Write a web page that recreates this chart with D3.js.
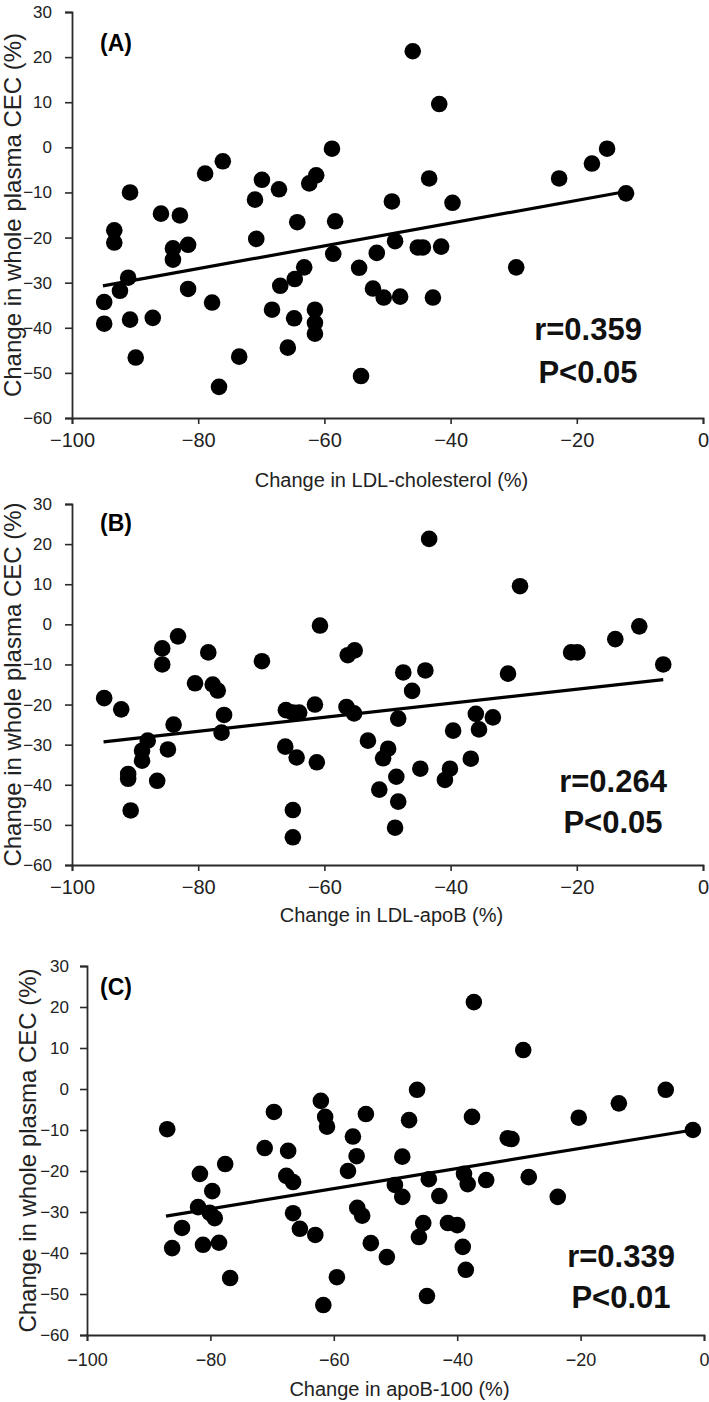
<!DOCTYPE html>
<html>
<head>
<meta charset="utf-8">
<script src="https://cdn.jsdelivr.net/npm/d3@7"></script>
<style>
  html, body { margin: 0; padding: 0; background: #fff; }
  svg { display: block; }
  text { font-family: "Liberation Sans", Arial, sans-serif; }
</style>
</head>
<body>
<svg id="chart" width="709" height="1402"></svg>
<script>
// ---------- DATA ----------
const yTicks = [30, 20, 10, 0, -10, -20, -30, -40, -50, -60];
const xTicks = [-100, -80, -60, -40, -20, 0];
const yTitle = "Change in whole plasma CEC (%)";

// Panel A: change in LDL-cholesterol (%) vs change in whole plasma CEC (%)
const aX = [-93.3,-93.3,-94.9,-94.9,-92.4,-91.1,-90.8,-89.9,-90.8,-87.2,-85.9,-82.9,-84.0,-84.0,-81.6,-81.6,-78.9,-76.1,-77.8,-76.7,-73.5,-71.0,-69.9,-70.8,-67.2,-68.3,-67.0,-65.8,-64.3,-64.7,-64.8,-63.2,-62.4,-61.3,-61.5,-61.5,-61.5,-58.8,-58.3,-58.6,-54.5,-54.2,-51.7,-52.3,-50.6,-48.8,-49.3,-48.0,-46.0,-45.2,-44.4,-43.4,-42.8,-41.8,-41.5,-39.7,-29.6,-22.8,-17.6,-15.2,-12.2];
const aY = [-18.4,-21.1,-34.3,-39.1,-31.8,-28.9,-38.2,-46.6,-10.0,-37.8,-14.7,-15.1,-22.4,-24.9,-21.6,-31.4,-5.8,-3.1,-34.4,-53.1,-46.4,-11.6,-7.2,-20.3,-9.3,-36.0,-30.7,-44.4,-16.6,-29.2,-37.9,-26.6,-8.0,-6.2,-36.0,-38.9,-41.3,-0.3,-16.4,-23.6,-26.7,-50.7,-23.4,-31.3,-33.3,-20.8,-12.0,-33.1,21.3,-22.2,-22.2,-6.9,-33.3,9.6,-22.0,-12.3,-26.6,-6.9,-3.6,-0.3,-10.2];
const aTrendX = [-95.1, -12.2];
const aTrendY = [-30.7, -9.8];

// Panel B: change in LDL-apoB (%)
const bX = [-94.9,-92.2,-85.7,-85.7,-83.2,-78.4,-80.5,-77.7,-76.9,-69.9,-60.7,-56.3,-55.2,-43.4,-29.0,-47.5,-44.0,-46.1,-30.9,-20.9,-19.9,-13.9,-10.1,-6.3,-75.9,-76.3,-83.9,-88.0,-88.9,-88.9,-84.8,-91.1,-91.1,-86.5,-90.7,-66.2,-64.4,-61.2,-65.0,-65.0,-66.1,-65.0,-64.0,-61.5,-56.5,-55.3,-48.3,-53.1,-49.9,-50.7,-44.8,-48.6,-51.3,-48.3,-48.8,-39.6,-36.0,-35.5,-33.3,-36.8,-40.1,-40.9];
const bY = [-18.4,-21.2,-6.0,-10.0,-3.0,-7.0,-14.7,-15.0,-16.5,-9.2,-0.3,-7.7,-6.5,21.3,9.5,-12.0,-11.5,-16.6,-12.3,-7.0,-7.0,-3.7,-0.5,-10.0,-22.6,-27.0,-25.0,-29.0,-31.5,-34.0,-31.2,-37.3,-38.5,-39.0,-46.4,-30.5,-33.2,-34.4,-46.3,-53.1,-21.4,-22.0,-22.0,-20.0,-20.6,-22.2,-23.5,-29.0,-31.0,-33.4,-36.0,-38.0,-41.2,-44.2,-50.7,-26.5,-22.3,-26.2,-23.2,-33.5,-36.0,-38.8];
const bTrendX = [-95.0, -6.3];
const bTrendY = [-29.3, -13.8];

// Panel C: change in apoB-100 (%)
const cX = [-87.0,-69.7,-62.1,-61.4,-61.1,-71.2,-67.4,-77.6,-56.9,-56.3,-37.3,-29.3,-46.5,-54.8,-47.8,-37.6,-48.9,-31.8,-31.2,-20.3,-13.8,-6.2,-1.8,-81.7,-79.7,-82.0,-80.1,-79.3,-84.6,-86.2,-81.2,-78.6,-76.8,-67.7,-66.6,-66.6,-65.5,-63.0,-59.5,-61.7,-57.7,-56.2,-55.4,-50.1,-48.9,-44.6,-42.9,-38.9,-38.3,-35.3,-28.4,-23.7,-45.5,-46.2,-41.5,-40.0,-54.0,-51.4,-39.1,-38.6,-44.9];
const cY = [-9.8,-5.6,-2.9,-6.8,-9.2,-14.4,-15.1,-18.3,-11.6,-16.4,21.2,9.5,-0.2,-6.1,-7.6,-6.8,-16.5,-12.0,-12.2,-7.0,-3.5,-0.2,-10.0,-20.7,-24.9,-28.8,-30.2,-31.5,-33.9,-38.8,-38.0,-37.5,-46.1,-21.2,-22.7,-30.3,-34.1,-35.6,-45.9,-52.7,-20.0,-29.0,-30.9,-23.4,-26.3,-22.0,-26.1,-20.7,-23.2,-22.2,-21.5,-26.3,-32.7,-36.1,-32.7,-33.2,-37.6,-41.0,-38.5,-44.1,-50.5];
const cTrendX = [-87.2, -1.8];
const cTrendY = [-31.0, -10.0];

const panelLabels = ["(A)", "(B)", "(C)"];
const xTitles = ["Change in LDL-cholesterol (%)", "Change in LDL-apoB (%)", "Change in apoB-100 (%)"];
const rTexts = ["r=0.359", "r=0.264", "r=0.339"];
const pTexts = ["P<0.05", "P<0.05", "P<0.01"];

// ---------- LAYOUT (positions only) ----------
const layouts = [
  { left: 72, right: 703, top: 12, bottom: 418, ytX: 21, xtY: 487, xtFont: 20, xTickFont: 20, xPad: 9, yPad: 13, labY: 51, statX: 588, rY: 340, pY: 383 },
  { left: 72, right: 703, top: 504, bottom: 865, ytX: 21, xtY: 922, xtFont: 20, xTickFont: 20, xPad: 9, yPad: 13, labY: 531, statX: 613, rY: 792, pY: 833 },
  { left: 87, right: 704, top: 966, bottom: 1335, ytX: 36, xtY: 1396, xtFont: 20, xTickFont: 18, xPad: 12, yPad: 11, labY: 995, statX: 621, rY: 1267, pY: 1308 }
];

const panels = [
  { xs: aX, ys: aY, tx: aTrendX, ty: aTrendY },
  { xs: bX, ys: bY, tx: bTrendX, ty: bTrendY },
  { xs: cX, ys: cY, tx: cTrendX, ty: cTrendY }
];

const svg = d3.select("#chart");
const axisColor = "#2a2a2a";

panels.forEach((p, i) => {
  const L = layouts[i];
  const x = d3.scaleLinear().domain([-100, 0]).range([L.left, L.right]);
  const y = d3.scaleLinear().domain([-60, 30]).range([L.bottom, L.top]);
  const g = svg.append("g");

  // axes
  const yAxis = g.append("g")
    .attr("transform", `translate(${L.left},0)`)
    .call(d3.axisLeft(y).tickValues(yTicks).tickSize(7).tickPadding(L.yPad).tickFormat(d3.format("d")));
  const xAxis = g.append("g")
    .attr("transform", `translate(0,${L.bottom})`)
    .call(d3.axisBottom(x).tickValues(xTicks).tickSize(6).tickPadding(L.xPad).tickFormat(d3.format("d")));
  [yAxis, xAxis].forEach(a => {
    a.select(".domain").attr("stroke", axisColor).attr("stroke-width", 1.8);
    a.selectAll(".tick line").attr("stroke", axisColor).attr("stroke-width", 1.6);
    a.selectAll("text").attr("fill", "#222").style("font-family", '"Liberation Sans", Arial, sans-serif');
  });
  yAxis.selectAll("text").attr("font-size", 17);
  xAxis.selectAll("text").attr("font-size", L.xTickFont);

  // points
  const pts = p.xs.map((v, k) => ({ x: v, y: p.ys[k] }));
  g.append("g").selectAll("circle").data(pts).join("circle")
    .attr("cx", d => x(d.x))
    .attr("cy", d => y(d.y))
    .attr("r", 8.3)
    .attr("fill", "#000");

  // trend line
  const line = d3.line().x(d => x(d[0])).y(d => y(d[1]));
  g.append("path")
    .datum(p.tx.map((v, k) => [v, p.ty[k]]))
    .attr("d", line)
    .attr("fill", "none")
    .attr("stroke", "#000")
    .attr("stroke-width", 3.2);

  // panel label
  g.append("text")
    .attr("x", 100).attr("y", L.labY)
    .attr("font-size", 23).attr("font-weight", "bold")
    .attr("fill", "#000")
    .text(panelLabels[i]);

  // stats
  g.append("text")
    .attr("x", L.statX).attr("y", L.rY)
    .attr("text-anchor", "middle")
    .attr("font-size", 31).attr("font-weight", "bold").attr("fill", "#111")
    .text(rTexts[i]);
  g.append("text")
    .attr("x", L.statX).attr("y", L.pY)
    .attr("text-anchor", "middle")
    .attr("font-size", 31).attr("font-weight", "bold").attr("fill", "#111")
    .text(pTexts[i]);

  // axis titles
  g.append("text")
    .attr("x", (L.left + L.right) / 2 + 4).attr("y", L.xtY)
    .attr("text-anchor", "middle")
    .attr("font-size", L.xtFont).attr("fill", "#222")
    .text(xTitles[i]);
  g.append("text")
    .attr("transform", `translate(${L.ytX},${(L.top + L.bottom) / 2}) rotate(-90)`)
    .attr("text-anchor", "middle")
    .attr("font-size", 24).attr("fill", "#222")
    .text(yTitle);
});
</script>
</body>
</html>
